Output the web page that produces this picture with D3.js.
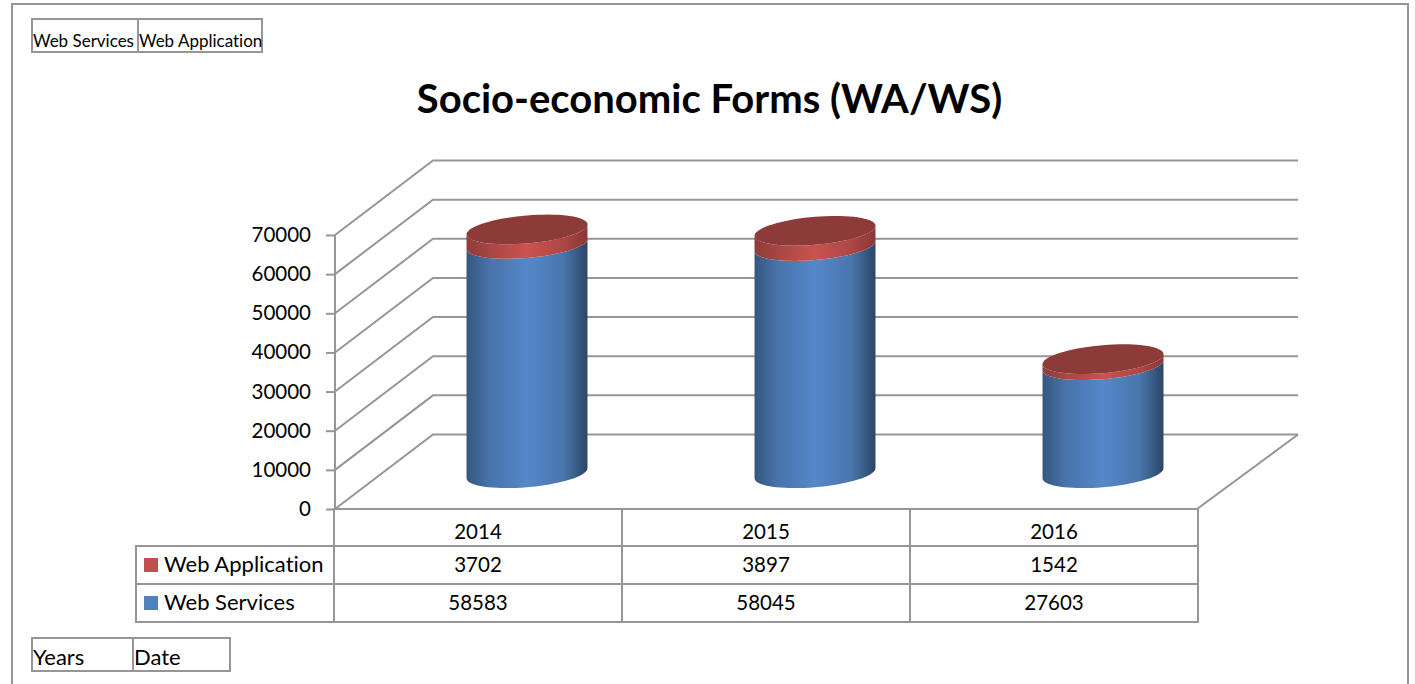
<!DOCTYPE html>
<html>
<head>
<meta charset="utf-8">
<script src="https://cdn.jsdelivr.net/npm/d3@7"></script>
<style>
  body { margin: 0; background: #fff; }
  svg { display: block; }
  text { font-family: Lato, "Open Sans", sans-serif; fill: #000; font-variant-ligatures: none; }
</style>
</head>
<body>
<svg id="plot" width="1415" height="684"></svg>
<script>
"use strict";

const years = ["2014", "2015", "2016"];
const webServices = [58583, 58045, 27603];
const webApplication = [3702, 3897, 1542];
const yTicks = [0, 10000, 20000, 30000, 40000, 50000, 60000, 70000];

const lineColor = "#969696";
const frontLeft = 335, frontRight = 1197, frontBottom = 509, frontTop = 235;
const depthX = 98, depthY = -74.5;

const svg = d3.select("svg#plot");

const x = d3.scaleBand().domain(years).range([frontLeft - 1, frontRight + 1]);
const y = d3.scaleLinear().domain([0, 70000]).range([frontBottom, frontTop]);

// outer frame, runs off the bottom of the page
svg.append("path")
  .attr("d", "M12,684V4H1408V684")
  .attr("fill", "none")
  .attr("stroke", lineColor)
  .attr("stroke-width", 2);

// the little field boxes of the pivot chart
function fieldBoxes(labels, widths, left, top, height, size, baseline) {
  let pos = left;
  labels.forEach((label, i) => {
    svg.append("rect")
      .attr("x", pos).attr("y", top)
      .attr("width", widths[i]).attr("height", height)
      .attr("fill", "none").attr("stroke", lineColor).attr("stroke-width", 2);
    svg.append("text")
      .attr("x", pos + 1).attr("y", baseline)
      .attr("font-size", size)
      .text(label);
    pos += widths[i];
  });
}
fieldBoxes(["Web Services", "Web Application"], [106, 124], 32, 19, 33, 17, 47);
fieldBoxes(["Years", "Date"], [101, 97], 32, 638, 33, 22, 665);

svg.append("text")
  .attr("x", 709.5).attr("y", 113)
  .attr("text-anchor", "middle")
  .attr("font-size", 40)
  .attr("font-weight", 700)
  .text("Socio-economic Forms (WA/WS)");

// back wall and side wall
const walls = svg.append("g")
  .attr("fill", "none").attr("stroke", lineColor).attr("stroke-width", 2);
walls.selectAll(".grid").data(yTicks).join("path")
  .attr("class", "grid")
  .attr("d", (d) =>
    `M${frontLeft},${y(d)}L${frontLeft + depthX},${y(d) + depthY}H${frontRight + depthX + 3}`);
walls.append("path")
  .attr("d", `M${frontLeft},${frontBottom}H${frontRight}L${frontRight + depthX + 3},${frontBottom + depthY}`);

// value axis
const axis = svg.append("g")
  .attr("transform", `translate(${frontLeft},0)`)
  .call(d3.axisLeft(y).tickValues(yTicks).tickFormat(d3.format("d")).tickSize(9).tickPadding(15));
axis.selectAll("line, path").attr("stroke", lineColor).attr("stroke-width", 2);
axis.select(".domain").attr("d", `M0,${frontTop}V${frontBottom}`);
axis.selectAll("text").attr("font-size", 20.5).attr("font-family", "Lato");

// cylinders
const defs = svg.append("defs");
function shade(id, stops) {
  const g = defs.append("linearGradient").attr("id", id);
  stops.forEach(([offset, color]) => {
    g.append("stop").attr("offset", offset).attr("stop-color", color);
  });
}
shade("blueSide", [["0%", "#35577f"], ["18%", "#4872a9"], ["50%", "#5587c9"], ["80%", "#4a76ad"], ["100%", "#2b4566"]]);
shade("redSide", [["0%", "#8e3c3a"], ["20%", "#a94644"], ["50%", "#cb524f"], ["80%", "#ab4745"], ["100%", "#8a3836"]]);

const radiusX = x.bandwidth() * 0.21;
const radiusY = 14;
const tilt = 5;
const line = d3.line();
const lowerHalf = d3.range(0, 37).map((i) => (i / 36) * Math.PI);
const wholeRing = d3.range(0, 73).map((i) => (i / 72) * 2 * Math.PI);

function ringPoint(cx, cy, t) {
  return [cx + radiusX * Math.cos(t), cy + radiusY * Math.sin(t) - tilt * Math.cos(t)];
}
// side of a slice: lower edge of the bottom ring, then back along the top ring
function sidePath(cx, cyBottom, cyTop) {
  const bottom = lowerHalf.map((t) => ringPoint(cx, cyBottom, t));
  const top = lowerHalf.map((t) => ringPoint(cx, cyTop, t)).reverse();
  return line(bottom.concat(top)) + "Z";
}

const floorOffset = depthY / 2 + 1.5;
const bars = svg.append("g").selectAll("g").data(years).join("g");
bars.each(function (year, i) {
  const g = d3.select(this);
  const cx = x(year) + x.bandwidth() / 2 + depthX / 2;
  const base = y(0) + floorOffset;
  const mid = y(webServices[i]) + floorOffset;
  const top = y(webServices[i] + webApplication[i]) + floorOffset;
  g.append("path").attr("d", sidePath(cx, base, mid)).attr("fill", "url(#blueSide)");
  g.append("path").attr("d", sidePath(cx, mid, top)).attr("fill", "url(#redSide)");
  g.append("path")
    .attr("d", line(wholeRing.map((t) => ringPoint(cx, top, t))) + "Z")
    .attr("fill", "#8c3b39");
});

// data table under the plot
const rowTops = [frontBottom, 546, 584, 622];
const legendLeft = 136;
const tableRows = [
  { label: null, values: years, textY: 539 },
  { label: "Web Application", values: webApplication, color: "#c0504d", textY: 572 },
  { label: "Web Services", values: webServices, color: "#4f81bd", textY: 610 }
];
const table = svg.append("g");

tableRows.forEach((row, r) => {
  const rowTop = rowTops[r];
  const rowHeight = rowTops[r + 1] - rowTop;
  row.values.forEach((v, c) => {
    table.append("rect")
      .attr("x", x(years[c])).attr("y", rowTop)
      .attr("width", x.bandwidth()).attr("height", rowHeight)
      .attr("fill", "none").attr("stroke", lineColor).attr("stroke-width", 2);
    table.append("text")
      .attr("x", x(years[c]) + x.bandwidth() / 2).attr("y", row.textY)
      .attr("text-anchor", "middle").attr("font-size", 20.5)
      .text(v);
  });
  if (row.label) {
    table.append("rect")
      .attr("x", legendLeft).attr("y", rowTop)
      .attr("width", frontLeft - 1 - legendLeft).attr("height", rowHeight)
      .attr("fill", "none").attr("stroke", lineColor).attr("stroke-width", 2);
    table.append("rect")
      .attr("x", 144).attr("y", rowTop + 12)
      .attr("width", 14).attr("height", 14)
      .attr("fill", row.color);
    table.append("text")
      .attr("x", 164).attr("y", row.textY)
      .attr("font-size", 22)
      .text(row.label);
  }
});
</script>
</body>
</html>
